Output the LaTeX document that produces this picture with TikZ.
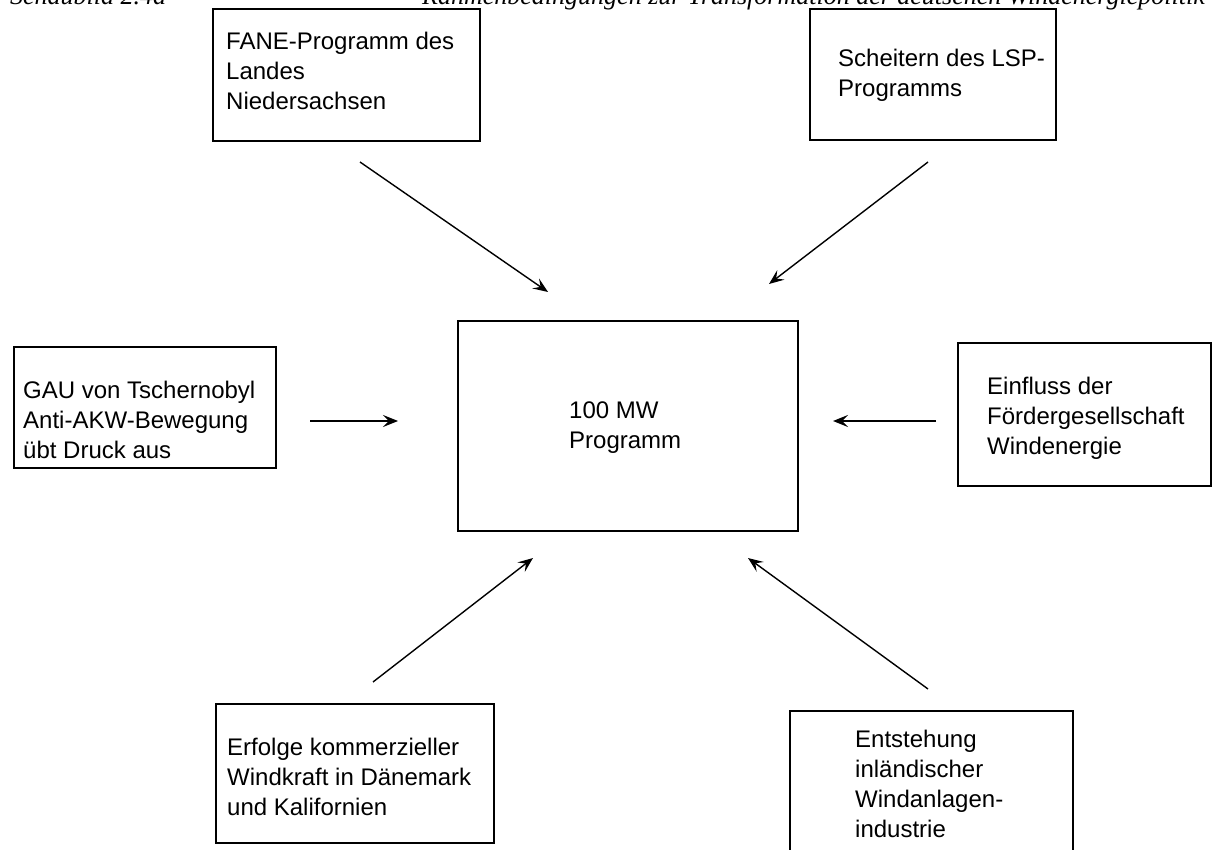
\documentclass[tikz,border=0pt]{standalone}
\usepackage{fontspec}
\setmainfont{Liberation Sans}
\newfontfamily\headfont{Liberation Serif}
\usetikzlibrary{arrows.meta}
\tikzset{
  box/.style={draw=black, line width=1.6pt, rectangle, inner sep=0pt, anchor=north west},
  txt/.style={align=left, inner sep=0pt, anchor=base west, font=\fontsize{24}{30}\selectfont},
  arr/.style={line width=1.4pt, -{Stealth[length=15pt,width=12pt,inset=6pt]}},
  head/.style={inner sep=0pt, font=\headfont\itshape\fontsize{26}{30}\selectfont}
}
\begin{document}
\begin{tikzpicture}[x=1pt,y=-1pt]
\useasboundingbox (0,0) rectangle (1216,850);
\clip (0,0) rectangle (1216,850);
\fill[white] (0,0) rectangle (1216,850);
% header (cut off at the top edge, as in the reference)
\node[head, anchor=base west] (hl) at (10,5) {Schaubild 2.4a};
\node[head, anchor=base east] (hr) at (1205,5) {Rahmenbedingungen zur Transformation der deutschen Windenergiepolitik};
% boxes (base anchor of a multi-line text = baseline of its last line)
\node[box, minimum width=267pt, minimum height=132pt] (fane) at (212,8) {};
\node[txt] (fanet) at (226,110) {FANE-Programm des\\Landes\\Niedersachsen};
\node[box, minimum width=246pt, minimum height=131pt] (lsp) at (809,8) {};
\node[txt] (lspt) at (838,97) {Scheitern des LSP-\\Programms};
\node[box, minimum width=340pt, minimum height=210pt] (mw) at (457,320) {};
\node[txt] (mwt) at (569,448) {100 MW\\Programm};
\node[box, minimum width=262pt, minimum height=121pt] (gau) at (13,346) {};
\node[txt] (gaut) at (23,458) {GAU von Tschernobyl\\Anti-AKW-Bewegung\\übt Druck aus};
\node[box, minimum width=253pt, minimum height=143pt] (ein) at (957,342) {};
\node[txt] (eint) at (987,454) {Einfluss der\\Fördergesellschaft\\Windenergie};
\node[box, minimum width=278pt, minimum height=139pt] (erf) at (215,703) {};
\node[txt] (erft) at (227,815) {Erfolge kommerzieller\\Windkraft in Dänemark\\und Kalifornien};
\node[box, minimum width=283pt, minimum height=170pt] (ent) at (789,710) {};
\node[txt] (entt) at (855,837) {Entstehung\\inländischer\\Windanlagen-\\industrie};
% arrow end points
\coordinate (a1s) at (360,162); \coordinate (a1e) at (548,292);
\coordinate (a2s) at (928,162); \coordinate (a2e) at (769,284);
\coordinate (a3s) at (310,421); \coordinate (a3e) at (398,421);
\coordinate (a4s) at (936,421); \coordinate (a4e) at (833,421);
\coordinate (a5s) at (373,682); \coordinate (a5e) at (533,558);
\coordinate (a6s) at (928,689); \coordinate (a6e) at (748,558);
\draw[arr] (a1s) -- (a1e);
\draw[arr] (a2s) -- (a2e);
\draw[arr] (a3s) -- (a3e);
\draw[arr] (a4s) -- (a4e);
\draw[arr] (a5s) -- (a5e);
\draw[arr] (a6s) -- (a6e);
\end{tikzpicture}
\end{document}
